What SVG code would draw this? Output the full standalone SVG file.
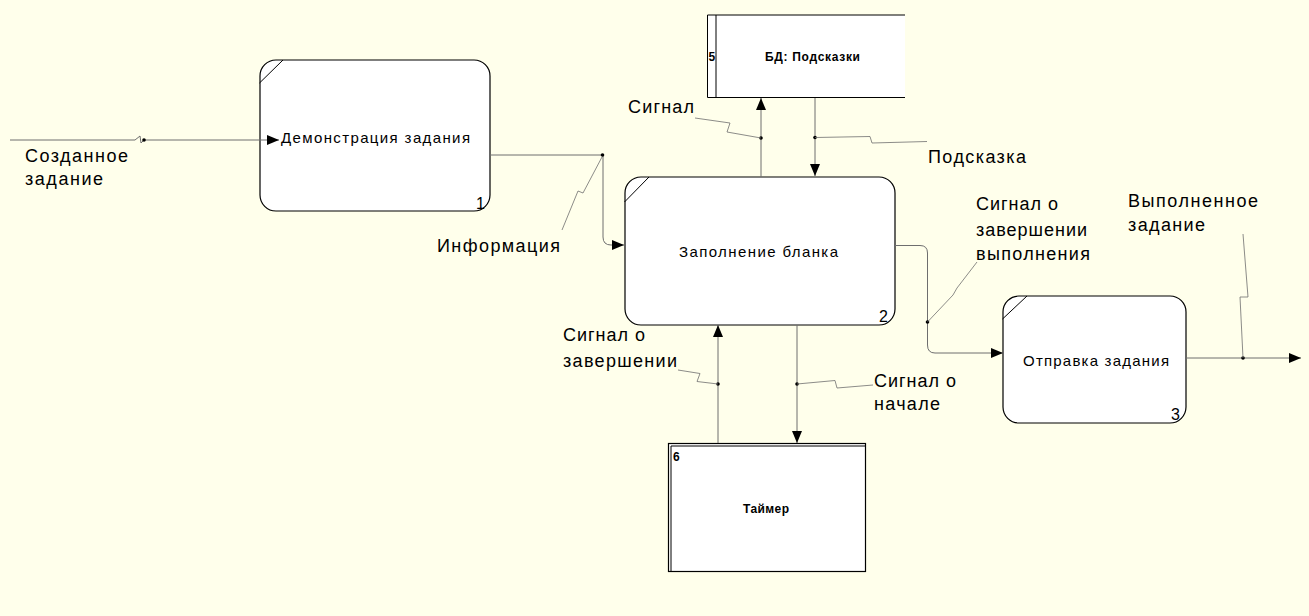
<svg xmlns="http://www.w3.org/2000/svg" width="1309" height="616" viewBox="0 0 1309 616">
<defs>
<marker id="ah" markerUnits="userSpaceOnUse" markerWidth="14" markerHeight="10" refX="12" refY="5" orient="auto">
<path d="M0,0 L12,5 L0,10 Z" fill="#000"/>
</marker>
<style>
.bg{fill:#FFFFEB}
.box{fill:#fff;stroke:#000;stroke-width:1.2}
.ln{fill:none;stroke:#000;stroke-width:1}
.cn{fill:none;stroke:#6e6e6e;stroke-width:1}
.ld{fill:none;stroke:#6e6e6e;stroke-width:0.8}
.dot{fill:#000}
.nt{font-family:"Liberation Sans",Arial,sans-serif;font-size:15px;fill:#000}
.lb{font-family:"Liberation Sans",Arial,sans-serif;font-size:18px;fill:#000}
.bd{font-family:"Liberation Sans",Arial,sans-serif;font-size:12px;font-weight:bold;fill:#000}
.num{font-family:"Liberation Sans",Arial,sans-serif;font-size:16px;fill:#000}
</style>
</defs>
<rect class="bg" x="0" y="0" width="1309" height="616"/>

<g id="node1">
<rect class="box" x="260" y="60" width="230" height="151" rx="16"/>
<line class="ln" x1="259.5" y1="83" x2="283" y2="60"/>
<text class="nt" x="281" y="143" textLength="189" lengthAdjust="spacing">Демонстрация задания</text>
<text class="num" x="476" y="209">1</text>
</g>

<g id="node2">
<rect class="box" x="625" y="177" width="270" height="148" rx="16"/>
<line class="ln" x1="624.5" y1="202" x2="649" y2="177"/>
<text class="nt" x="679" y="257" textLength="159" lengthAdjust="spacing">Заполнение бланка</text>
<text class="num" x="879" y="322">2</text>
</g>

<g id="node3">
<rect class="box" x="1003" y="296" width="183" height="127" rx="16"/>
<line class="ln" x1="1002.5" y1="319" x2="1027" y2="296"/>
<text class="nt" x="1023" y="366" textLength="146" lengthAdjust="spacing">Отправка задания</text>
<text class="num" x="1171" y="420">3</text>
</g>

<g id="node5">
<rect x="707" y="15" width="198" height="83" fill="#fff"/>
<path class="ln" d="M905,15 H707.5 V97.5 H905"/>
<line class="ln" x1="716" y1="15" x2="716" y2="98"/>
<text class="bd" x="708.5" y="61">5</text>
<text class="bd" x="765" y="61" textLength="95" lengthAdjust="spacing">БД: Подсказки</text>
</g>

<g id="node6">
<rect class="box" x="668.5" y="443.5" width="197" height="128" stroke-width="1"/>
<line class="ln" x1="671" y1="446" x2="865" y2="446"/>
<line class="ln" x1="671" y1="446" x2="671" y2="571"/>
<text class="bd" x="673" y="461">6</text>
<text class="bd" x="743" y="513" textLength="46" lengthAdjust="spacing">Таймер</text>
</g>

<g id="connectors">
<path class="cn" d="M10,140 H135 L140,136 L141,143 L144,140 H279" marker-end="url(#ah)"/>
<circle class="dot" cx="144" cy="140" r="1.8"/>
<path class="cn" d="M490,155 H603 V237 Q603,245 611,245 H624" marker-end="url(#ah)"/>
<circle class="dot" cx="602.5" cy="155" r="1.8"/>
<path class="ld" d="M602,157 L583,193 L578,191 L562,230"/>
<path class="cn" d="M761,177 V98" marker-end="url(#ah)"/>
<circle class="dot" cx="761" cy="138" r="1.8"/>
<path class="ld" d="M761,138 L727,132 L730,123 L695,118"/>
<path class="cn" d="M815,98 V176" marker-end="url(#ah)"/>
<circle class="dot" cx="815" cy="137.5" r="1.8"/>
<path class="ld" d="M815,137.5 L870,136.5 L872,143 L927,141.5"/>
<path class="cn" d="M895,245.5 H920 Q927.5,245.5 927.5,253 V345 Q927.5,353 935,353 H1003" marker-end="url(#ah)"/>
<circle class="dot" cx="927.5" cy="322" r="1.8"/>
<path class="ld" d="M927.5,322 L953,295 L957,288 L977,262"/>
<path class="cn" d="M1186,358 H1301" marker-end="url(#ah)"/>
<circle class="dot" cx="1243" cy="358" r="1.8"/>
<path class="ld" d="M1243,358 L1240,297 L1248,297 L1243,234"/>
<path class="cn" d="M718,443 V325" marker-end="url(#ah)"/>
<circle class="dot" cx="718" cy="384" r="1.8"/>
<path class="ld" d="M718,384 L697,381.5 L700,373.5 L678,370"/>
<path class="cn" d="M797,325 V443" marker-end="url(#ah)"/>
<circle class="dot" cx="797" cy="384" r="1.8"/>
<path class="ld" d="M797,384 L835,380.5 L837,388 L873,385"/>
</g>

<g id="labels">
<text class="lb" x="25" y="162" textLength="103" lengthAdjust="spacing">Созданное</text>
<text class="lb" x="25" y="185" textLength="78" lengthAdjust="spacing">задание</text>
<text class="lb" x="437" y="252" textLength="123" lengthAdjust="spacing">Информация</text>
<text class="lb" x="628" y="113" textLength="66" lengthAdjust="spacing">Сигнал</text>
<text class="lb" x="928" y="163" textLength="98" lengthAdjust="spacing">Подсказка</text>
<text class="lb" x="976" y="210" textLength="82" lengthAdjust="spacing">Сигнал о</text>
<text class="lb" x="976" y="236" textLength="111" lengthAdjust="spacing">завершении</text>
<text class="lb" x="976" y="260" textLength="114" lengthAdjust="spacing">выполнения</text>
<text class="lb" x="1128" y="207" textLength="130" lengthAdjust="spacing">Выполненное</text>
<text class="lb" x="1128" y="231" textLength="77" lengthAdjust="spacing">задание</text>
<text class="lb" x="563" y="341" textLength="82" lengthAdjust="spacing">Сигнал о</text>
<text class="lb" x="563" y="367" textLength="114" lengthAdjust="spacing">завершении</text>
<text class="lb" x="874" y="387" textLength="82" lengthAdjust="spacing">Сигнал о</text>
<text class="lb" x="874" y="410" textLength="66" lengthAdjust="spacing">начале</text>
</g>
</svg>
